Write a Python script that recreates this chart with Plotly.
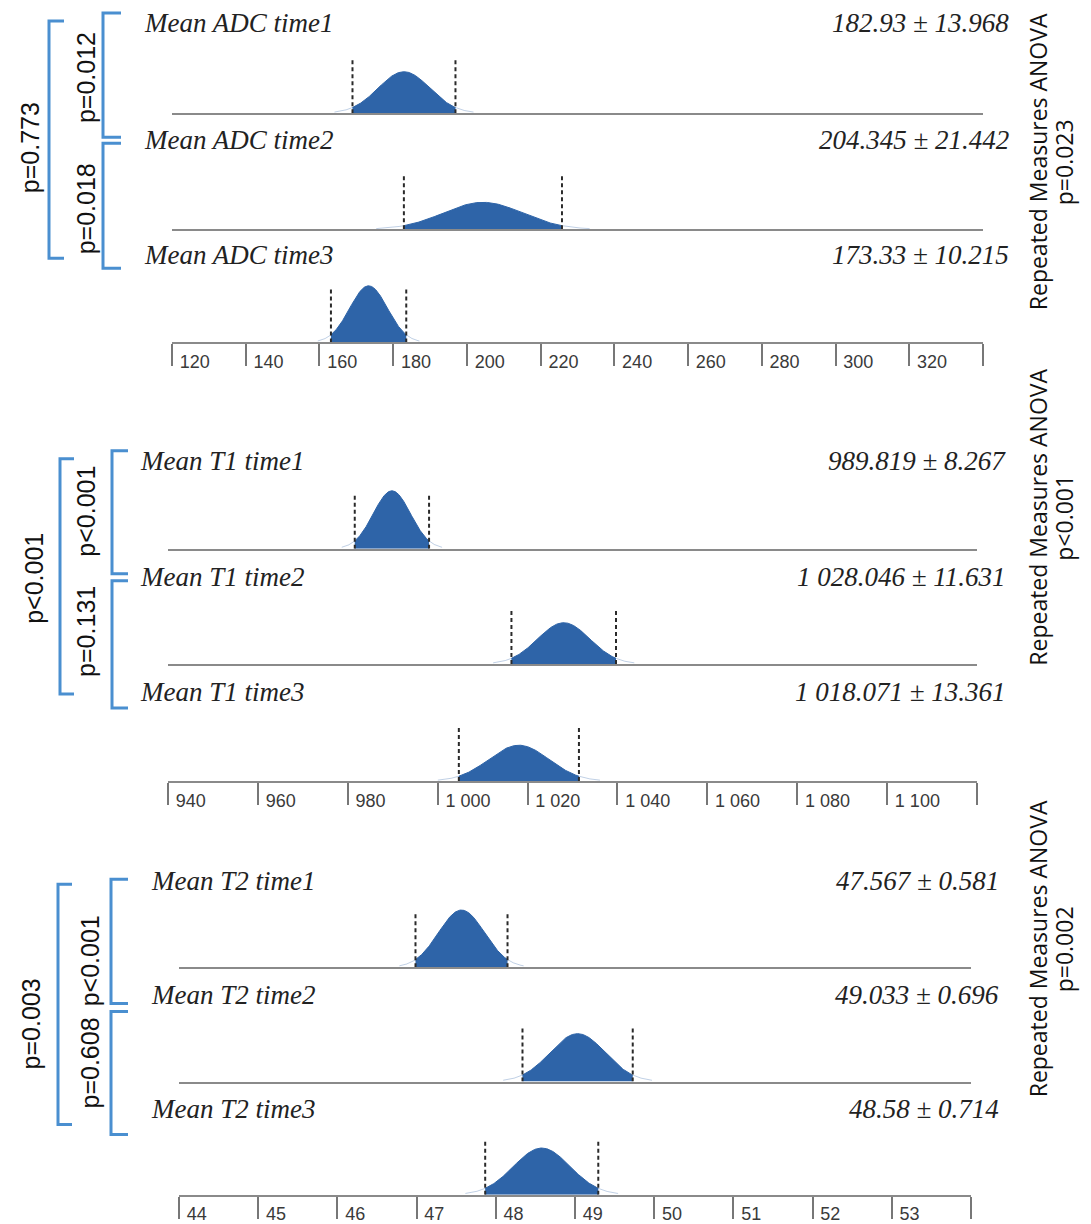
import numpy as np
import plotly.graph_objects as go

# ---------------- data ----------------
adc_labels = ["Mean ADC time1", "Mean ADC time2", "Mean ADC time3"]
adc_means = [182.93, 204.345, 173.33]
adc_sds = [13.968, 21.442, 10.215]
adc_value_text = ["182.93 ± 13.968", "204.345 ± 21.442", "173.33 ± 10.215"]
adc_tickvals = [120, 140, 160, 180, 200, 220, 240, 260, 280, 300, 320, 340]
adc_ticktext = ["120", "140", "160", "180", "200", "220", "240", "260", "280", "300", "320", ""]
adc_p_pairs = ["p=0.012", "p=0.018"]
adc_p_1vs3 = "p=0.773"
adc_p_anova = "p=0.023"

t1_labels = ["Mean T1 time1", "Mean T1 time2", "Mean T1 time3"]
t1_means = [989.819, 1028.046, 1018.071]
t1_sds = [8.267, 11.631, 13.361]
t1_value_text = ["989.819 ± 8.267", "1 028.046 ± 11.631", "1 018.071 ± 13.361"]
t1_tickvals = [940, 960, 980, 1000, 1020, 1040, 1060, 1080, 1100, 1120]
t1_ticktext = ["940", "960", "980", "1 000", "1 020", "1 040", "1 060", "1 080", "1 100", ""]
t1_p_pairs = ["p<0.001", "p=0.131"]
t1_p_1vs3 = "p<0.001"
t1_p_anova = "p<0.001"

t2_labels = ["Mean T2 time1", "Mean T2 time2", "Mean T2 time3"]
t2_means = [47.567, 49.033, 48.58]
t2_sds = [0.581, 0.696, 0.714]
t2_value_text = ["47.567 ± 0.581", "49.033 ± 0.696", "48.58 ± 0.714"]
t2_tickvals = [44, 45, 46, 47, 48, 49, 50, 51, 52, 53, 54]
t2_ticktext = ["44", "45", "46", "47", "48", "49", "50", "51", "52", "53", ""]
t2_p_pairs = ["p<0.001", "p=0.608"]
t2_p_1vs3 = "p=0.003"
t2_p_anova = "p=0.002"

anova_title = "Repeated Measures ANOVA"

panels_data = [
    dict(labels=adc_labels, means=adc_means, sds=adc_sds, vals=adc_value_text,
         tickvals=adc_tickvals, ticktext=adc_ticktext, pairs=adc_p_pairs,
         p13=adc_p_1vs3, anova=adc_p_anova),
    dict(labels=t1_labels, means=t1_means, sds=t1_sds, vals=t1_value_text,
         tickvals=t1_tickvals, ticktext=t1_ticktext, pairs=t1_p_pairs,
         p13=t1_p_1vs3, anova=t1_p_anova),
    dict(labels=t2_labels, means=t2_means, sds=t2_sds, vals=t2_value_text,
         tickvals=t2_tickvals, ticktext=t2_ticktext, pairs=t2_p_pairs,
         p13=t2_p_1vs3, anova=t2_p_anova),
]

# ---------------- layout geometry (page pixels) ----------------
W, H = 1091, 1224
YS = 1.0055                   # small vertical calibration of measured positions

geom = [
    dict(x0=172, x1=983, base=[113, 229, 342], lab_x=142, val_r=1011, lab_y=[23, 140, 255], K=2120,
         outer=(49, 64, 21, 258), in1=(103, 121, 13, 137), in2=(103, 121, 143, 268),
         t13=(30, 148), tp1=(86, 78), tp2=(86, 209), ry=162),
    dict(x0=168, x1=977, base=[548, 663, 780], lab_x=138, val_r=1008, lab_y=[460, 576, 691], K=2140,
         outer=(60, 74, 458, 693), in1=(112, 128, 450, 573), in2=(112, 128, 580, 707),
         t13=(34, 578), tp1=(86, 511), tp2=(86, 631), ry=517),
    dict(x0=179, x1=971, base=[966, 1080, 1193], lab_x=149, val_r=1001, lab_y=[880, 994, 1107], K=2620,
         outer=(58, 72, 883, 1123), in1=(111, 128, 878, 1002), in2=(111, 128, 1010, 1133),
         t13=(31, 1023), tp1=(90, 960), tp2=(90, 1062), ry=948),
]

ROW_H = 66       # px height of each row plot area
DASH_H = 54      # px height of the dashed limits
CURVE_C = 0.5    # curve sigma relative to sd
FILL = "#2e64a8"
TAIL = "rgba(46,100,168,0.30)"
BRACKET = "#4a8fd0"
GRAY = "#8a8a8a"

def px(x):
    return x / W

def py(y):
    return 1 - (y * YS) / H

fig = go.Figure()
layout = dict(width=W, height=H, margin=dict(l=0, r=0, t=0, b=0),
              paper_bgcolor="white", plot_bgcolor="rgba(0,0,0,0)", showlegend=False)
annotations = []
shapes = []

ax = 0
for pd_, g in zip(panels_data, geom):
    xmin, xmax = pd_["tickvals"][0], pd_["tickvals"][-1]
    ppx = (g["x1"] - g["x0"]) / (xmax - xmin)
    for r in range(3):
        ax += 1
        xa = "x" if ax == 1 else f"x{ax}"
        ya = "y" if ax == 1 else f"y{ax}"
        m, s = pd_["means"][r], pd_["sds"][r]
        sc = s * CURVE_C
        peak = g["K"] / (s * ppx)
        # faint tails
        for a, b in [(m - 2.7 * sc, m - s), (m + s, m + 2.7 * sc)]:
            xt = np.linspace(a, b, 60)
            yt = peak * np.exp(-0.5 * ((xt - m) / sc) ** 2)
            fig.add_trace(go.Scatter(x=xt, y=yt, mode="lines", line=dict(color=TAIL, width=1),
                                     xaxis=xa, yaxis=ya, hoverinfo="skip"))
        xc = np.linspace(m - s, m + s, 200)
        yc = peak * np.exp(-0.5 * ((xc - m) / sc) ** 2)
        fig.add_trace(go.Scatter(x=xc, y=yc, mode="lines", line=dict(color=FILL, width=1),
                                 fill="tozeroy", fillcolor=FILL, xaxis=xa, yaxis=ya, hoverinfo="skip"))
        for xv in (m - s, m + s):
            fig.add_trace(go.Scatter(x=[xv, xv], y=[0, DASH_H], mode="lines",
                                     line=dict(color="#2a2a2a", width=2, dash="4px,3px"),
                                     xaxis=xa, yaxis=ya, hoverinfo="skip"))
        b = g["base"][r]
        xdict = dict(domain=[px(g["x0"]), px(g["x1"])], range=[xmin, xmax], anchor=ya,
                     showgrid=False, zeroline=False, showline=True, linecolor=GRAY, linewidth=2,
                     fixedrange=True)
        if r == 2:
            xdict.update(ticks="outside", ticklen=22, tickwidth=1.5, tickcolor="#777777",
                         tickmode="array", tickvals=pd_["tickvals"], ticktext=pd_["ticktext"],
                         ticklabelposition="outside right", ticklabelstandoff=2, ticklabelshift=6,
                         tickfont=dict(family="Liberation Sans", size=18, color="#3a3a3a"))
        else:
            xdict.update(ticks="", showticklabels=False)
        ydict = dict(domain=[py(b), py(b - ROW_H)], range=[0, ROW_H / YS], anchor=xa, visible=False,
                     fixedrange=True)
        layout["xaxis" if ax == 1 else f"xaxis{ax}"] = xdict
        layout["yaxis" if ax == 1 else f"yaxis{ax}"] = ydict

        # row labels
        annotations.append(dict(x=px(g["lab_x"]), y=py(g["lab_y"][r]), xref="paper", yref="paper",
                                text=f"<i>{pd_['labels'][r]}</i>", showarrow=False,
                                xanchor="left", yanchor="middle",
                                font=dict(family="Liberation Serif", size=27, color="#222222")))
        annotations.append(dict(x=px(g["val_r"]), y=py(g["lab_y"][r]), xref="paper", yref="paper",
                                text=f"<i>{pd_['vals'][r]}</i>", showarrow=False,
                                xanchor="right", yanchor="middle",
                                font=dict(family="Liberation Serif", size=27, color="#222222")))

    # brackets
    for (bx0, bx1, by0, by1) in (g["outer"], g["in1"], g["in2"]):
        path = (f"M {px(bx1)},{py(by0)} L {px(bx0)},{py(by0)} "
                f"L {px(bx0)},{py(by1)} L {px(bx1)},{py(by1)}")
        shapes.append(dict(type="path", path=path, xref="paper", yref="paper",
                           line=dict(color=BRACKET, width=3)))
    # rotated p values
    for (tx, ty), txt in ((g["t13"], pd_["p13"]), (g["tp1"], pd_["pairs"][0]), (g["tp2"], pd_["pairs"][1])):
        annotations.append(dict(x=px(tx), y=py(ty), xref="paper", yref="paper", text=txt,
                                textangle=-90, showarrow=False, xanchor="center", yanchor="middle",
                                font=dict(family="Liberation Sans", size=25, color="#111111")))
    annotations.append(dict(x=px(1038), y=py(g["ry"]), xref="paper", yref="paper", text=anova_title,
                            textangle=-90, showarrow=False, xanchor="center", yanchor="middle",
                            font=dict(family="Open Sans", size=23, color="#111111")))
    annotations.append(dict(x=px(1064), y=py(g["ry"]), xref="paper", yref="paper", text=pd_["anova"],
                            textangle=-90, showarrow=False, xanchor="center", yanchor="middle",
                            font=dict(family="Open Sans", size=23, color="#111111")))

layout["annotations"] = annotations
layout["shapes"] = shapes
fig.update_layout(**layout)
fig.write_html("out.html", config={"displayModeBar": False},
               post_script="document.body.style.margin='0';document.body.style.overflow='hidden';")
